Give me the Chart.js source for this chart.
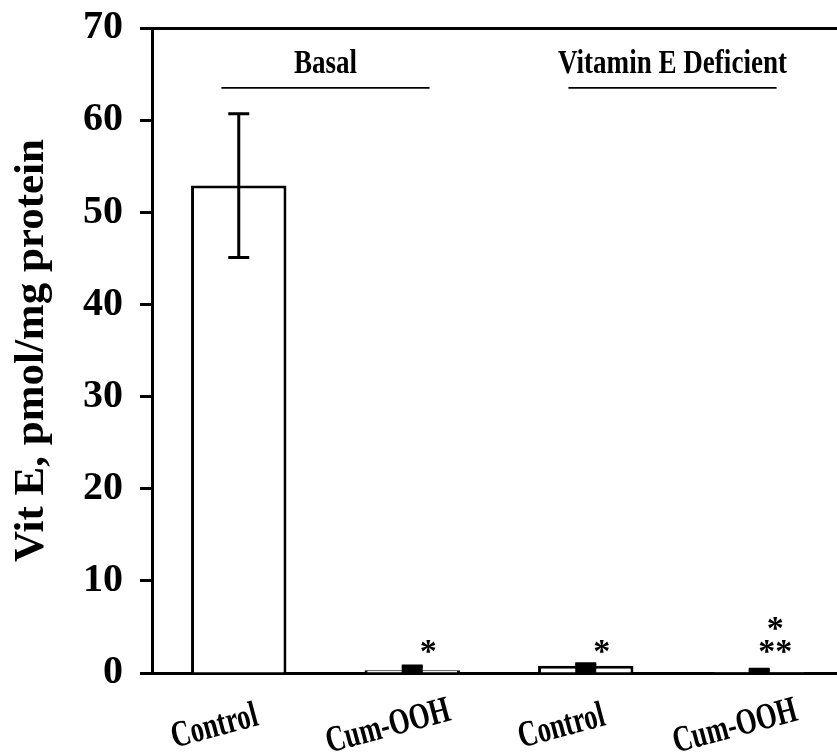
<!DOCTYPE html>
<html lang="en">
<head>
    <meta charset="UTF-8">
    <title>Vit E</title>
    <script src="https://cdn.jsdelivr.net/npm/chart.js"></script>
    <style>
        html, body { margin: 0; padding: 0; background: #fff; overflow: hidden; }
        canvas { display: block; }
    </style>
</head>
<body>
    <canvas id="vitChart" width="860" height="754"></canvas>
    <script>
    // values
    const treatments = ['Control', 'Cum-OOH', 'Control', 'Cum-OOH'];
    const vitE = [52.9, 0.3, 0.8, 0.1];
    const vitErr = [7.8, 0.45, 0.2, 0.3];
    const stars = [[], ['*'], ['*'], ['*', '**']];
    const groupNames = ['Basal', 'Vitamin E Deficient'];
    const groupMembers = [[0, 1], [2, 3]];
    const yTicks = [0, 10, 20, 30, 40, 50, 60, 70];

    const serif = '"Liberation Serif", "Times New Roman", serif';

    function squeezed(ctx, text, px, py, angle, sx) {
        ctx.save();
        ctx.translate(px, py);
        ctx.rotate(angle);
        ctx.scale(sx, 1);
        ctx.fillText(text, 0, 0);
        ctx.restore();
    }

    const extras = {
        id: 'extras',
        afterDatasetsDraw(chart) {
            const ctx = chart.ctx;
            const x = chart.scales.x, y = chart.scales.y;
            const bars = chart.getDatasetMeta(0).data;
            const base = y.getPixelForValue(0);
            ctx.save();
            ctx.strokeStyle = '#000';
            ctx.fillStyle = '#000';

            // error bars
            bars.forEach((bar, i) => {
                const hi = y.getPixelForValue(vitE[i] + vitErr[i]);
                const lo = y.getPixelForValue(Math.max(0, vitE[i] - vitErr[i]));
                const cap = bar.width * 0.11;
                ctx.lineWidth = 3;
                ctx.beginPath();
                ctx.moveTo(bar.x, lo); ctx.lineTo(bar.x, hi);
                ctx.moveTo(bar.x - cap, hi); ctx.lineTo(bar.x + cap, hi);
                ctx.moveTo(bar.x - cap, lo); ctx.lineTo(bar.x + cap, lo);
                ctx.stroke();
                if (vitE[i] < 2) {
                    // tiny bars: the caps merge into a solid block
                    ctx.fillRect(bar.x - cap, hi, cap * 2, base - hi);
                }
            });

            // significance stars
            ctx.font = 'bold 34px ' + serif;
            ctx.textAlign = 'center';
            ctx.textBaseline = 'alphabetic';
            bars.forEach((bar, i) => {
                const lines = stars[i];
                lines.forEach((s, k) => {
                    const fromBottom = lines.length - 1 - k;
                    ctx.fillText(s, bar.x + 16, base - 11 - fromBottom * 23);
                });
            });

            // group headers with underline
            const lineY = y.getPixelForValue(63.5);
            groupNames.forEach((name, g) => {
                const xs = groupMembers[g].map(i => x.getPixelForValue(i));
                const mid = (xs[0] + xs[xs.length - 1]) / 2;
                const half = (xs[xs.length - 1] - xs[0]) * 0.6;
                ctx.lineWidth = 1.6;
                ctx.beginPath();
                ctx.moveTo(mid - half, lineY);
                ctx.lineTo(mid + half, lineY);
                ctx.stroke();
                ctx.font = 'bold 33px ' + serif;
                ctx.textAlign = 'center';
                ctx.textBaseline = 'alphabetic';
                squeezed(ctx, name, mid, lineY - 15, 0, 0.82);
            });

            // slanted category labels
            ctx.font = 'bold 37px ' + serif;
            ctx.textAlign = 'center';
            ctx.textBaseline = 'middle';
            treatments.forEach((t, i) => {
                const px = x.getPixelForValue(i);
                squeezed(ctx, t, px - 24, base + 54, -15 * Math.PI / 180, 0.72);
            });
            ctx.restore();
        }
    };

    new Chart(document.getElementById('vitChart'), {
        type: 'bar',
        data: {
            labels: treatments,
            datasets: [{
                data: vitE,
                backgroundColor: '#fff',
                borderColor: '#000',
                borderWidth: 3,
                barPercentage: 0.55,
                categoryPercentage: 1
            }]
        },
        options: {
            responsive: false,
            animation: false,
            layout: { padding: { left: 0, right: 14, top: 0, bottom: 0 } },
            plugins: {
                legend: { display: false },
                tooltip: { enabled: false }
            },
            scales: {
                x: {
                    position: 'bottom',
                    grid: { display: false },
                    border: { display: true, color: '#000', width: 3 },
                    ticks: { display: false },
                    afterFit(scale) { scale.height = 81; }
                },
                x2: {
                    position: 'top',
                    labels: treatments,
                    grid: { display: false },
                    border: { display: true, color: '#000', width: 3 },
                    ticks: { display: false },
                    afterFit(scale) { scale.height = 28; }
                },
                y: {
                    min: 0,
                    max: 70,
                    afterBuildTicks(scale) { scale.ticks = yTicks.map(v => ({ value: v })); },
                    grid: { drawOnChartArea: false, drawTicks: true, tickLength: 12, tickWidth: 3, tickColor: '#000' },
                    border: { display: true, color: '#000', width: 3 },
                    ticks: {
                        color: '#000',
                        padding: 17,
                        font: { family: serif, size: 40, weight: 'bold', lineHeight: 0.5 }
                    },
                    title: {
                        display: true,
                        text: 'Vit E, pmol/mg protein',
                        color: '#000',
                        padding: { top: 6, bottom: 0 },
                        font: { family: serif, size: 43, weight: 'bold' }
                    },
                    afterFit(scale) { scale.width = 152; }
                }
            }
        },
        plugins: [extras]
    });
    </script>
</body>
</html>
